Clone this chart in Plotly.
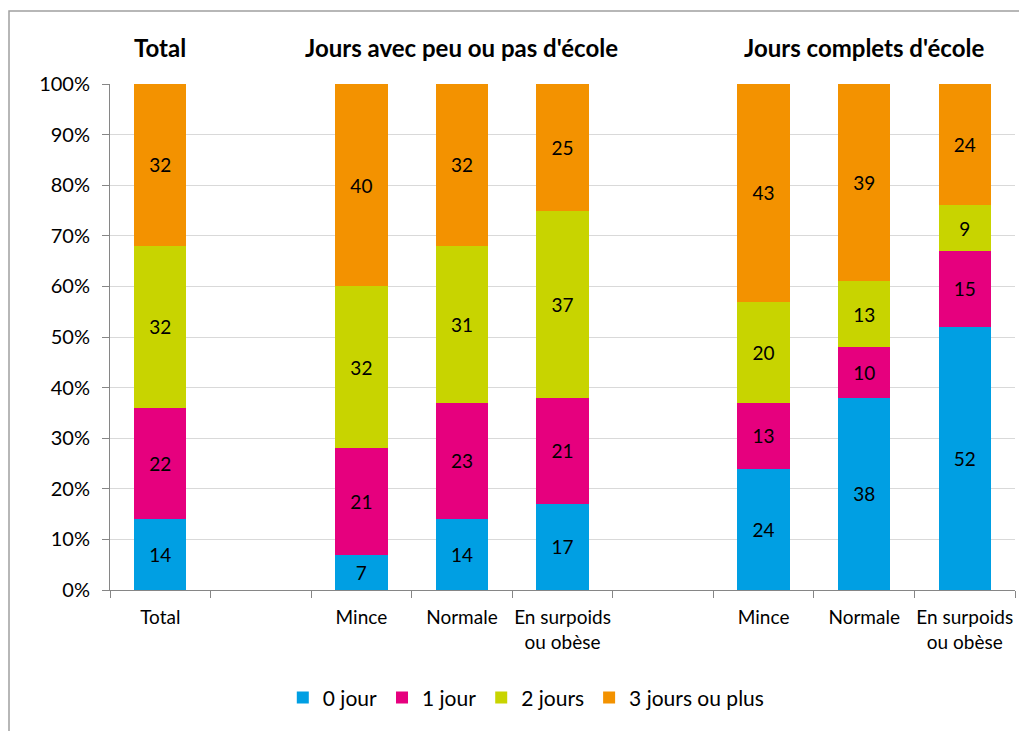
import plotly.graph_objects as go

positions = [0, 2, 3, 4, 6, 7, 8]
tick_labels = ["Total", "Mince", "Normale", "En surpoids<br>ou obèse",
               "Mince", "Normale", "En surpoids<br>ou obèse"]
series_names = ["0 jour", "1 jour", "2 jours", "3 jours ou plus"]
jour0 = [14, 7, 14, 17, 24, 38, 52]
jour1 = [22, 21, 23, 21, 13, 10, 15]
jour2 = [32, 32, 31, 37, 20, 13, 9]
jour3 = [32, 40, 32, 25, 43, 39, 24]
colors = ["#009FE3", "#E6007E", "#C8D400", "#F39200"]
group_titles = ["Total", "Jours avec peu ou pas d'école", "Jours complets d'école"]
group_pos = [0, 3, 7]

FONT = "Lato, 'Open Sans', sans-serif"

fig = go.Figure()
for name, vals, col in zip(series_names, [jour0, jour1, jour2, jour3], colors):
    fig.add_trace(go.Bar(
        x=positions, y=vals, name=name, width=0.52,
        marker=dict(color=col, line=dict(width=0)),
        text=vals, textposition="inside", insidetextanchor="middle",
        textangle=0, constraintext="none",
        textfont=dict(size=19, color="black", family=FONT),
    ))

for t, p in zip(group_titles, group_pos):
    fig.add_annotation(x=p, y=1.073, xref="x", yref="paper", text="<b>" + t + "</b>",
                       showarrow=False, font=dict(size=24, color="black", family=FONT),
                       yanchor="middle")

# chart border
fig.add_shape(type="rect", xref="paper", yref="paper",
              x0=-0.1116, x1=1.05, y0=-0.35, y1=1.1443,
              line=dict(color="#A0A0A0", width=1.5), fillcolor="rgba(0,0,0,0)", layer="below")

fig.update_layout(
    barmode="stack",
    width=1027, height=731,
    margin=dict(l=102, r=20, t=76, b=149),
    paper_bgcolor="white", plot_bgcolor="white",
    font=dict(family=FONT, size=19, color="black"),
    showlegend=True,
    legend=dict(orientation="h", x=0.46, xanchor="center", y=-0.213, yanchor="middle",
                font=dict(size=21, family=FONT), itemwidth=30, traceorder="normal"),
    xaxis=dict(range=[-0.5, 8.5], tickmode="array", tickvals=positions, ticktext=tick_labels,
               ticks="", showgrid=False, zeroline=False, showline=True, linecolor="#868686",
               linewidth=1, tickfont=dict(size=19), ticklabelstandoff=10,
               minor=dict(tickmode="linear", tick0=-0.5, dtick=1, ticks="outside",
                          ticklen=7, tickcolor="#868686", showgrid=False)),
    yaxis=dict(range=[0, 100], tickmode="linear", tick0=0, dtick=10, ticksuffix="%",
               ticks="outside", ticklen=7, tickcolor="#868686", showline=True,
               linecolor="#868686", linewidth=1, gridcolor="#D9D9D9", gridwidth=1,
               zeroline=False, tickfont=dict(size=20), ticklabelstandoff=8),
)

fig.write_html("out.html")
